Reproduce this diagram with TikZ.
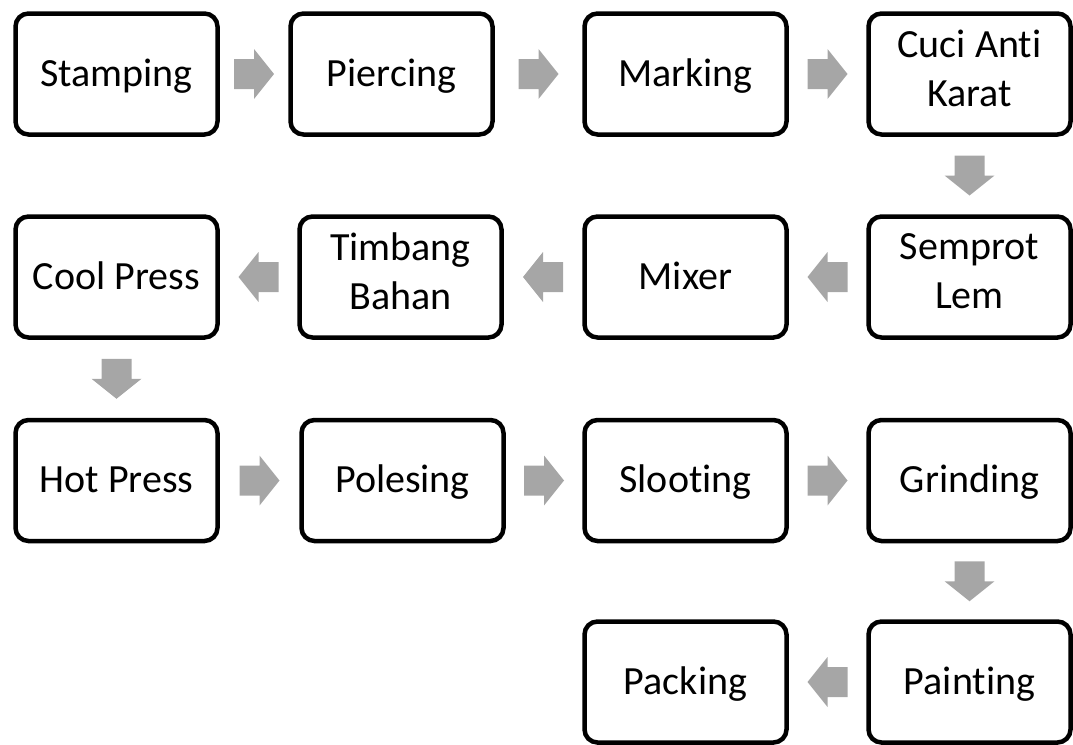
\documentclass[tikz,border=0pt]{standalone}
\usepackage{fontspec}
\setmainfont{Carlito}[RawFeature={-liga;-clig;-calt;-dlig}]
\usetikzlibrary{calc}
\definecolor{arrowgray}{RGB}{166,166,166}
\newcommand{\boxstrut}{\rule[-12pt]{0pt}{48pt}}
\tikzset{
  stepbox/.style={draw=black, line width=4.5pt, rounded corners=13pt,
    minimum width=202pt, minimum height=121pt, align=center, inner sep=0pt,
    font=\fontsize{40}{49}\selectfont,
    execute at begin node={\boxstrut}, execute at end node={\boxstrut}},
  pics/blockarrow/.style={code={
    \fill[arrowgray] (-20,-15) -- (0,-15) -- (0,-25) -- (20,0) -- (0,25)
      -- (0,15) -- (-20,15) -- cycle;}},
}
\begin{document}
\begin{tikzpicture}[x=1pt,y=-1pt]
\useasboundingbox (0,0) rectangle (1073,744);
% row 1
\node[stepbox] (s1) at (116.5,74) {Stamping};
\node[stepbox] (s2) at (391.5,74) {Piercing};
\node[stepbox] (s3) at (685.5,74) {Marking};
\node[stepbox] (s4) at (969.5,74) {Cuci Anti\\Karat};
% row 2
\node[stepbox] (s5) at (969.5,277) {Semprot\\Lem};
\node[stepbox] (s6) at (685.5,277) {Mixer};
\node[stepbox] (s7) at (400.5,277) {Timbang\\Bahan};
\node[stepbox] (s8) at (116.5,277) {Cool Press};
% row 3
\node[stepbox] (s9) at (116.5,480.5) {Hot Press};
\node[stepbox] (s10) at (402.5,480.5) {Polesing};
\node[stepbox] (s11) at (685.5,480.5) {Slooting};
\node[stepbox] (s12) at (969.5,480.5) {Grinding};
% row 4
\node[stepbox] (s13) at (969.5,682) {Painting};
\node[stepbox] (s14) at (685.5,682) {Packing};
% arrows
\pic (a1) at ($(s1.east)!0.5!(s2.west)$) {blockarrow};
\pic (a2) at ($(s2.east)!0.5!(s3.west)$) {blockarrow};
\pic (a3) at ($(s3.east)!0.5!(s4.west)$) {blockarrow};
\pic[rotate=-90] (a4) at ($(s4.south)!0.5!(s5.north)$) {blockarrow};
\pic[rotate=180] (a5) at ($(s5.west)!0.5!(s6.east)$) {blockarrow};
\pic[rotate=180] (a6) at ($(s6.west)!0.5!(s7.east)$) {blockarrow};
\pic[rotate=180] (a7) at ($(s7.west)!0.5!(s8.east)$) {blockarrow};
\pic[rotate=-90] (a8) at ($(s8.south)!0.5!(s9.north)$) {blockarrow};
\pic (a9) at ($(s9.east)!0.5!(s10.west)$) {blockarrow};
\pic (a10) at ($(s10.east)!0.5!(s11.west)$) {blockarrow};
\pic (a11) at ($(s11.east)!0.5!(s12.west)$) {blockarrow};
\pic[rotate=-90] (a12) at ($(s12.south)!0.5!(s13.north)$) {blockarrow};
\pic[rotate=180] (a13) at ($(s13.west)!0.5!(s14.east)$) {blockarrow};
\end{tikzpicture}
\end{document}
